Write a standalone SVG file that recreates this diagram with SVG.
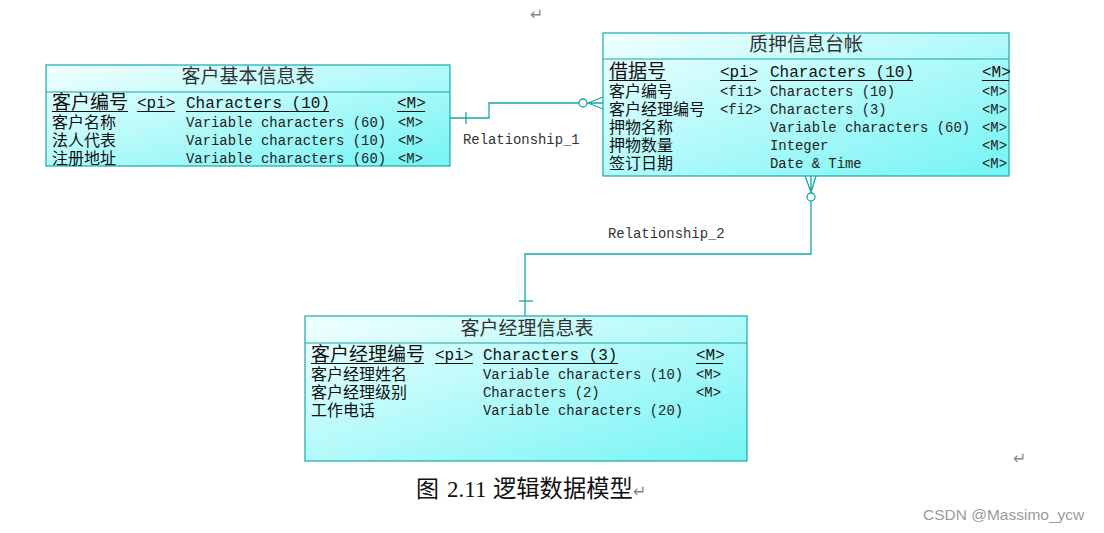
<svg xmlns="http://www.w3.org/2000/svg" width="1104" height="533" viewBox="0 0 1104 533">
<defs>
<linearGradient id="g" x1="0" y1="0" x2="1" y2="1">
<stop offset="0" stop-color="#f2ffff"/>
<stop offset="1" stop-color="#74f4f4"/>
</linearGradient>
<style>
.box{fill:url(#g);stroke:#16a8a8;stroke-width:1.2}
.hd{stroke:#16a8a8;stroke-width:1.2}
.t{font-family:"Liberation Sans","Noto Sans CJK SC",sans-serif;font-size:19px;fill:#333;text-anchor:middle}
.pkc{font-family:"Liberation Sans","Noto Sans CJK SC",sans-serif;font-size:19px;fill:#111}
.pkl{font-family:"Liberation Mono",monospace;font-size:16px;fill:#111}
.c{font-family:"Liberation Sans","Noto Sans CJK SC",sans-serif;font-size:16px;fill:#111}
.l{font-family:"Liberation Mono",monospace;font-size:13.9px;fill:#222}
.u{stroke:#111;stroke-width:1}
.cn{fill:none;stroke:#16a8a8;stroke-width:1.3}
.rl{font-family:"Liberation Mono",monospace;font-size:13.9px;fill:#333}
.ret{font-family:"DejaVu Sans",sans-serif;font-size:16px;fill:#888}
</style>
</defs>
<rect width="1104" height="533" fill="#fff"/>
<text class="ret" x="530" y="20">↵</text>
<text class="ret" x="1013" y="464">↵</text>

<g id="connectors">
<path class="cn" d="M450,118 H489 V103 H579"/>
<line class="cn" x1="466" y1="112" x2="466" y2="124"/>
<circle class="cn" cx="583" cy="103" r="4" fill="#fff"/>
<path class="cn" d="M587,103 H603 M588,103 L603,97 M588,103 L603,109"/>
<text class="rl" x="463" y="144">Relationship_1</text>
<path class="cn" d="M811,201 V254 H525 V316"/>
<line class="cn" x1="519" y1="301" x2="533" y2="301"/>
<circle class="cn" cx="811" cy="197" r="4" fill="#fff"/>
<path class="cn" d="M811,193 V176 M811,192 L805,176 M811,192 L816,176"/>
<text class="rl" x="608" y="238">Relationship_2</text>
</g>

<g id="customer">
<rect class="box" x="46" y="65" width="404" height="101"/>
<line class="hd" x1="46" y1="92" x2="450" y2="92"/>
<text class="t" x="248" y="83">客户基本信息表</text>
<text class="pkc" x="52" y="109">客户编号</text>
<text class="pkl" x="137" y="108">&lt;pi&gt;</text>
<text class="pkl" x="186" y="108">Characters (10)</text>
<text class="pkl" x="397" y="108">&lt;M&gt;</text>
<path class="u" d="M52,111.5H128M137,111.5H175M186,111.5H329M397,111.5H425"/>
<text class="c"><tspan x="52" y="128">客户名称</tspan><tspan x="52" y="146">法人代表</tspan><tspan x="52" y="164">注册地址</tspan></text>
<text class="l"><tspan x="186" y="127">Variable characters (60)</tspan><tspan x="186" y="145">Variable characters (10)</tspan><tspan x="186" y="163">Variable characters (60)</tspan></text>
<text class="l"><tspan x="398" y="127">&lt;M&gt;</tspan><tspan x="398" y="145">&lt;M&gt;</tspan><tspan x="398" y="163">&lt;M&gt;</tspan></text>
</g>

<g id="pledge">
<rect class="box" x="603" y="33" width="406" height="143"/>
<line class="hd" x1="603" y1="59" x2="1009" y2="59"/>
<text class="t" x="806" y="51">质押信息台帐</text>
<text class="pkc" x="609" y="78">借据号</text>
<text class="pkl" x="720" y="77">&lt;pi&gt;</text>
<text class="pkl" x="770" y="77">Characters (10)</text>
<text class="pkl" x="982" y="77">&lt;M&gt;</text>
<path class="u" d="M609,80.5H666M720,80.5H756M770,80.5H913M982,80.5H1009"/>
<text class="c"><tspan x="609" y="97">客户编号</tspan><tspan x="609" y="115">客户经理编号</tspan><tspan x="609" y="133">押物名称</tspan><tspan x="609" y="151">押物数量</tspan><tspan x="609" y="169">签订日期</tspan></text>
<text class="l"><tspan x="720" y="96">&lt;fi1&gt;</tspan><tspan x="720" y="114">&lt;fi2&gt;</tspan></text>
<text class="l"><tspan x="770" y="96">Characters (10)</tspan><tspan x="770" y="114">Characters (3)</tspan><tspan x="770" y="132">Variable characters (60)</tspan><tspan x="770" y="150">Integer</tspan><tspan x="770" y="168">Date &amp; Time</tspan></text>
<text class="l"><tspan x="982" y="96">&lt;M&gt;</tspan><tspan x="982" y="114">&lt;M&gt;</tspan><tspan x="982" y="132">&lt;M&gt;</tspan><tspan x="982" y="150">&lt;M&gt;</tspan><tspan x="982" y="168">&lt;M&gt;</tspan></text>
</g>

<g id="manager">
<rect class="box" x="305" y="316" width="442" height="145"/>
<line class="hd" x1="305" y1="343" x2="747" y2="343"/>
<text class="t" x="527" y="335">客户经理信息表</text>
<text class="pkc" x="311" y="361">客户经理编号</text>
<text class="pkl" x="435" y="360">&lt;pi&gt;</text>
<text class="pkl" x="483" y="360">Characters (3)</text>
<text class="pkl" x="696" y="360">&lt;M&gt;</text>
<path class="u" d="M311,363.5H424M435,363.5H473M483,363.5H618M696,363.5H723"/>
<text class="c"><tspan x="311" y="380">客户经理姓名</tspan><tspan x="311" y="398">客户经理级别</tspan><tspan x="311" y="416">工作电话</tspan></text>
<text class="l"><tspan x="483" y="379">Variable characters (10)</tspan><tspan x="483" y="397">Characters (2)</tspan><tspan x="483" y="415">Variable characters (20)</tspan></text>
<text class="l"><tspan x="696" y="379">&lt;M&gt;</tspan><tspan x="696" y="397">&lt;M&gt;</tspan></text>
</g>

<text x="416" y="497" style="font-family:'Liberation Serif','Noto Sans CJK SC',sans-serif;font-size:23px;fill:#111">图</text>
<text x="447" y="497" style="font-family:'Liberation Serif',serif;font-size:23px;fill:#111">2.11</text>
<text x="493" y="497" style="font-family:'Liberation Serif','Noto Sans CJK SC',sans-serif;font-size:23.3px;fill:#111">逻辑数据模型</text>
<text class="ret" x="633" y="497">↵</text>
<text x="923" y="520" style="font-family:'Liberation Sans',Arial,sans-serif;font-size:15.5px;fill:#9a9a9a">CSDN @Massimo_ycw</text>
</svg>
